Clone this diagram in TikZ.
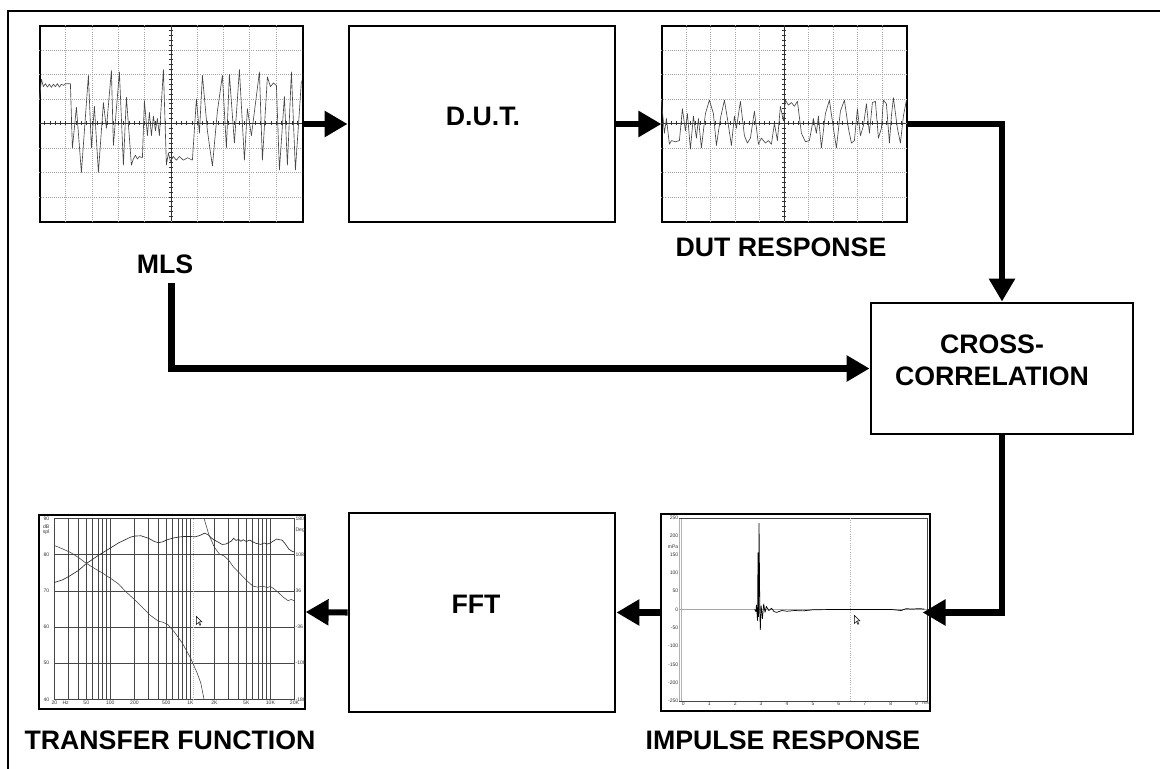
\documentclass[tikz,border=0pt]{standalone}
\usepackage{fontspec}
\setmainfont{Liberation Sans}
\usepackage{xcolor}
\usepackage{tikz}
\usetikzlibrary{arrows.meta,calc,positioning}
\tikzstyle{tsLabel} = [
    text=black,
    font=\bfseries\fontsize{19}{22.75}\selectfont
]
\tikzstyle{tsWraptext} = [
    tsLabel,
    text centered,
    align=center
]
\tikzstyle{tsBlock} = [
    rectangle,
    draw=black,
    line width=2pt,
    inner sep=0pt
]
\tikzstyle{tsScope} = [
    rectangle,
    draw=black,
    line width=0.8pt,
    inner sep=0pt
]
\tikzstyle{tsFlow} = [
    line width=4.3pt,
    -{Triangle[length=0.575cm,width=0.625cm]}
]
\tikzstyle{tsGrid} = [gray!70, densely dotted, line width=0.45pt]
\tikzstyle{tsAxis} = [gray!40!black, line width=0.45pt]
\tikzstyle{tsTrace} = [gray!55!black, line width=0.45pt, line join=round]
\tikzstyle{tsPlotGrid} = [gray!55!black, line width=0.35pt]
\tikzstyle{tsTick} = [
    text=black!80,
    font=\fontsize{3.6}{3.6}\selectfont,
    inner sep=0.6pt
]
\tikzstyle{tsCursor} = [draw=black, fill=white, line width=0.3pt]

\begin{document}
\begin{tikzpicture}[x=0.025cm, y=-0.025cm]
    \useasboundingbox (0,0) rectangle (1160,769);

    % Outer frame
    \draw[line width=1.4pt] (8,11) rectangle (1180,790);

    % Scopes and blocks
    \node[tsScope, minimum width=6.575cm, minimum height=4.9cm] (mls) at (171.5,124) {};
    \node[tsBlock, minimum width=6.65cm, minimum height=4.9cm] (dut) at (482,124) {};
    \node[tsScope, minimum width=6.125cm, minimum height=4.9cm] (dutresp) at (784.5,124) {};
    \node[tsBlock, minimum width=6.55cm, minimum height=3.275cm] (xcorr) at (1002,368.5) {};
    \node[tsScope, minimum width=6.725cm, minimum height=4.925cm] (impulse) at (795.5,612.5) {};
    \node[tsBlock, minimum width=6.65cm, minimum height=4.975cm] (fft) at (482,612.5) {};
    \node[tsScope, minimum width=6.65cm, minimum height=4.85cm] (transfer) at (172,612) {};

    % Block texts
    \node[tsWraptext] (duttext) at ($(dut.center)+(1,-8)$) {D.U.T.};
    \node[tsWraptext] (xcorrtext) at ($(xcorr.center)+(-10,-8.5)$) {CROSS-\\CORRELATION};
    \node[tsWraptext] (ffttext) at ($(fft.center)+(-6,-8.5)$) {FFT};

    % Captions
    \node[tsLabel] (mlslabel) at (165,264) {MLS};
    \node[tsLabel] (dutresplabel) at (781,247.5) {DUT RESPONSE};
    \node[tsLabel] (tflabel) at (170,740) {TRANSFER FUNCTION};
    \node[tsLabel] (implabel) at (783,740) {IMPULSE RESPONSE};

    % MLS scope
    \begin{scope}[shift={(mls.north west)}]
        \foreach \i in {1,...,9}
            \draw[tsGrid] (\i*26.3,0) -- (\i*26.3,196);
        \foreach \j in {1,...,7}
            \draw[tsGrid] (0,\j*24.5) -- (263,\j*24.5);
        \draw[tsAxis] (0,98) -- (263,98);
        \draw[tsAxis] (131.5,0) -- (131.5,196);
        \foreach \k in {1,...,49}
            \draw[tsAxis] (\k*5.26,96) -- (\k*5.26,100);
        \foreach \k in {1,...,39}
            \draw[tsAxis] (129.5,\k*4.9) -- (133.5,\k*4.9);
        \begin{scope}[shift={(0,98)}, y=0.6125cm]
            \draw[tsTrace] plot coordinates {(0,0.98) (2,1.8) (4,1.5) (6,1.62) (8,1.48) (10,1.6)
                (12,1.47) (14,1.6) (16,1.5) (18,1.62) (20,1.48) (22,1.6) (24,1.55) (26,1.62)
                (31,1.62) (33,-1) (37,0.66) (42,-2) (49,1.96) (52,-1) (55,0.7) (59,-2) (64,0.85)
                (67,-0.2) (72,2.16) (74,-0.9) (80,2.1) (84,-1.7) (87,1.07) (92,-1.7) (94,-1.45)
                (96,-1.3) (98,-1.45) (100,-1.35) (103,-1.4) (105,0.93) (108,-0.5) (110,0.45)
                (112,-0.5) (114,0.3) (116,-0.3) (118,0.2) (120,-0.5) (124,2.2) (127,-1.7)
                (129,-1.2) (131,-1.55) (134,-1.35) (137,-1.5) (140,-1.35) (144,-1.5) (148,-1.4)
                (153,-1.5) (157,1) (160,-0.4) (163,1.96) (168,-0.3) (173,-1.74) (178,0.5)
                (183,1.96) (187,-1) (190,2) (195,-0.8) (200,2.2) (205,-1.5) (208,0.6) (212,-0.5)
                (216,0.8) (220,2.1) (223,-1.5) (228,1.9) (231,1.5) (234,1.65) (237,1.55)
                (240,-1.9) (245,1.1) (248,-1.7) (252,2.1) (256,-1.9) (260,0.5) (262,1.75)};
        \end{scope}
    \end{scope}

    % DUT response scope
    \begin{scope}[shift={(dutresp.north west)}]
        \foreach \i in {1,...,9}
            \draw[tsGrid] (\i*24.5,0) -- (\i*24.5,196);
        \foreach \j in {1,...,7}
            \draw[tsGrid] (0,\j*24.5) -- (245,\j*24.5);
        \draw[tsAxis] (0,98) -- (245,98);
        \draw[tsAxis] (122.5,0) -- (122.5,196);
        \foreach \k in {1,...,49}
            \draw[tsAxis] (\k*4.9,96) -- (\k*4.9,100);
        \foreach \k in {1,...,39}
            \draw[tsAxis] (120.5,\k*4.9) -- (124.5,\k*4.9);
        \begin{scope}[shift={(0,98)}, y=0.6125cm]
            \draw[tsTrace] plot coordinates {(0,0.95) (3,-0.4) (5,0.2) (8,-0.85) (10,-0.7)
                (14,-0.75) (18,-0.7) (21,0.6) (24,-0.3) (26,0.4) (29,-1.05) (32,0.3) (35,-0.6)
                (37,0.2) (40,-1.0) (44,0.4) (48,0.95) (52,0.4) (55,-0.9) (59,0.2) (63,0.95)
                (66,0.2) (70,-0.9) (73,0.3) (75,-0.2) (79,0.9) (83,-0.5) (86,-0.8) (89,-0.6)
                (93,0.5) (97,-0.85) (100,-0.6) (104,-0.8) (107,-0.7) (110,-0.85) (113,0.0)
                (116,-0.7) (119,0.7) (122,0.1) (124,0.95) (127,0.75) (130,0.85) (133,0.7)
                (136,0.9) (140,-0.4) (144,-0.75) (148,-0.7) (152,0.2) (155,-0.4) (157,0.3)
                (160,-1.0) (164,0.4) (168,0.95) (172,-0.2) (175,-1.0) (179,0.5) (183,0.95)
                (187,-0.2) (190,-0.8) (193,-0.7) (196,0.6) (199,-0.5) (202,-0.1) (205,0.8)
                (208,-0.4) (211,0.85) (214,0.9) (217,-0.6) (220,-0.2) (222,0.95) (225,0.8)
                (228,-0.8) (230,0.3) (232,1.05) (236,-0.2) (239,-0.8) (242,0.3) (245,0.95)};
        \end{scope}
    \end{scope}

    % Transfer function plot
    \begin{scope}[shift={(transfer.north west)}]
        \draw[tsPlotGrid] (16,4) rectangle (256,185);
        \begin{scope}[shift={(16,185)}, x=2cm, y=0.0905cm]
            \foreach \d in {0,1,2}
                \foreach \o in {0.176,0.301,0.398,0.477,0.544,0.602,0.653,0.699,1}
                    \draw[tsPlotGrid] ({\d+\o},0) -- ({\d+\o},50);
            \foreach \v in {10,20,30,40}
                \draw[tsPlotGrid] (0,\v) -- (3,\v);
            \draw[gray!60, densely dotted, line width=0.5pt] (1.74,0) -- (1.74,50);
            % magnitude
            \draw[black!85, line width=0.45pt] plot coordinates {(0,32.3) (0.1,33) (0.176,33.9)
                (0.3,35.6) (0.398,37.5) (0.55,39.8) (0.699,41.8) (0.8,43.2) (0.875,44)
                (0.95,44.8) (1,45.1) (1.08,45.2) (1.176,44.5) (1.25,43.6) (1.301,43.3)
                (1.35,43.5) (1.398,44) (1.47,44.5) (1.544,44.8) (1.62,45) (1.699,45)
                (1.76,44.9) (1.82,45.3) (1.875,45.9) (1.91,45.6) (1.93,45.3) (1.96,44.6)
                (2.0,44) (2.05,43.4) (2.097,42.8) (2.14,42.9) (2.176,43.3) (2.21,43.7)
                (2.24,44.5) (2.27,43.9) (2.301,44.2) (2.33,43.7) (2.36,44.1) (2.398,43.6)
                (2.44,44) (2.48,43.5) (2.52,43.1) (2.544,43) (2.58,42.8) (2.62,43.2)
                (2.66,42.9) (2.699,43.2) (2.74,43.8) (2.778,44.3) (2.81,44.1) (2.845,44)
                (2.88,43.1) (2.93,41.5) (2.97,40.9) (3,40.7)};
            % phase
            \draw[black!75, line width=0.4pt] plot coordinates {(0,42.5) (0.1,41.6) (0.2,40.6)
                (0.3,39.2) (0.398,37.6) (0.5,36.2) (0.6,34.9) (0.699,33.5) (0.8,31.9)
                (0.9,29.6) (1,27.6) (1.1,25.4) (1.2,23.2) (1.3,21.6) (1.36,21.3) (1.42,20.6)
                (1.5,18.6) (1.6,15.5) (1.7,11.5) (1.78,7.5) (1.83,4.5) (1.87,0)};
            \draw[black!75, line width=0.4pt] plot coordinates {(1.87,50) (1.93,45.5) (2.0,42)
                (2.06,40.2) (2.12,39.6) (2.176,38.5) (2.24,36.5) (2.301,35.2) (2.36,33.8)
                (2.42,32.5) (2.48,31.3) (2.544,31) (2.6,31.3) (2.66,30.9) (2.699,31.2)
                (2.74,30.6) (2.8,29.5) (2.86,28.2) (2.92,27.3) (2.96,27.6) (3,27.2)};
            % scales
            \foreach \v/\t in {0/40,10/50,20/60,30/70,40/80,50/90}
                \node[tsTick, left] at (-0.05,\v) {\t};
            \node[tsTick, left] at (-0.05,47.8) {dB};
            \node[tsTick, left] at (-0.05,46.3) {spl};
            \foreach \v/\t in {0/-180,10/-108,20/-36,30/36,40/108,50/180}
                \node[tsTick, right] at (3,\v) {\t};
            \node[tsTick, right] at (3,46.6) {Deg};
            \foreach \p/\t in {0/20,0.14/Hz,0.398/50,0.699/100,1/200,1.398/500,1.699/1K,
                    2/2K,2.398/5K,2.699/10K,3/20K}
                \node[tsTick, below] at (\p,0) {\t};
        \end{scope}
        \draw[tsCursor] (158,102) -- (158,110) -- (160,108) -- (161.5,111) -- (162.5,110.5)
            -- (161,107.5) -- (163.5,107.5) -- cycle;
    \end{scope}

    % Impulse response plot
    \begin{scope}[shift={(impulse.north west)}]
        \draw[gray!60, line width=0.6pt] (19,5) -- (19,188);
        \draw[gray!60, line width=0.3pt] (21,5) -- (21,188);
        \draw[tsPlotGrid] (19,5) -- (267,5) -- (267,188) -- (19,188);
        \begin{scope}[shift={(23,96)}, x=0.6475cm, y=0.00915cm]
            \draw[gray!70, line width=0.5pt] (-0.154,0) -- (9.42,0);
            \draw[gray!60, densely dotted, line width=0.6pt] (6.45,-250) -- (6.45,250);
            \foreach \v in {-250,-200,...,250}
                \node[tsTick, left] at (-0.154,\v) {\v};
            \node[tsTick, left] at (-0.154,172) {mPa};
            \foreach \m in {0,...,9}
                \node[tsTick, below] at (\m,-250) {\m};
            \node[tsTick, below] at (9.35,-250) {ms};
            \draw[black, line width=0.5pt, line join=round] plot coordinates {(2.75,0) (2.8,-6)
                (2.82,12) (2.86,-30) (2.88,155) (2.9,-20) (2.92,235) (2.95,-10) (2.97,-55)
                (3.0,10) (3.05,-25) (3.1,15) (3.15,-8) (3.2,8) (3.3,-3) (3.4,3) (3.5,-6)
                (3.6,-8) (3.8,-3) (4.0,-5) (4.3,-3) (4.6,-4) (5,-1) (6,0) (7,0) (8,0)
                (8.4,-3) (8.6,2) (8.8,1) (9.1,2) (9.3,1)};
        \end{scope}
        \draw[tsCursor] (194,102) -- (194,110) -- (196,108) -- (197.5,111) -- (198.5,110.5)
            -- (197,107.5) -- (199.5,107.5) -- cycle;
    \end{scope}

    % Signal flow
    \coordinate (mlstap) at ($(mls.south |- mlslabel.south)+(0,5)$);
    \coordinate (impin) at ($(impulse.east)+(-8,0)$);
    \draw[tsFlow] (mls.east) -- (dut.west);
    \draw[tsFlow] (dut.east) -- (dutresp.west);
    \draw[tsFlow] (dutresp.east) -| (xcorr.north);
    \draw[tsFlow] (mlstap) |- (xcorr.west);
    \draw[tsFlow] (xcorr.south) |- (impin);
    \draw[tsFlow] (impulse.west) -- (fft.east);
    \draw[tsFlow] (fft.west) -- (transfer.east);
\end{tikzpicture}
\end{document}
